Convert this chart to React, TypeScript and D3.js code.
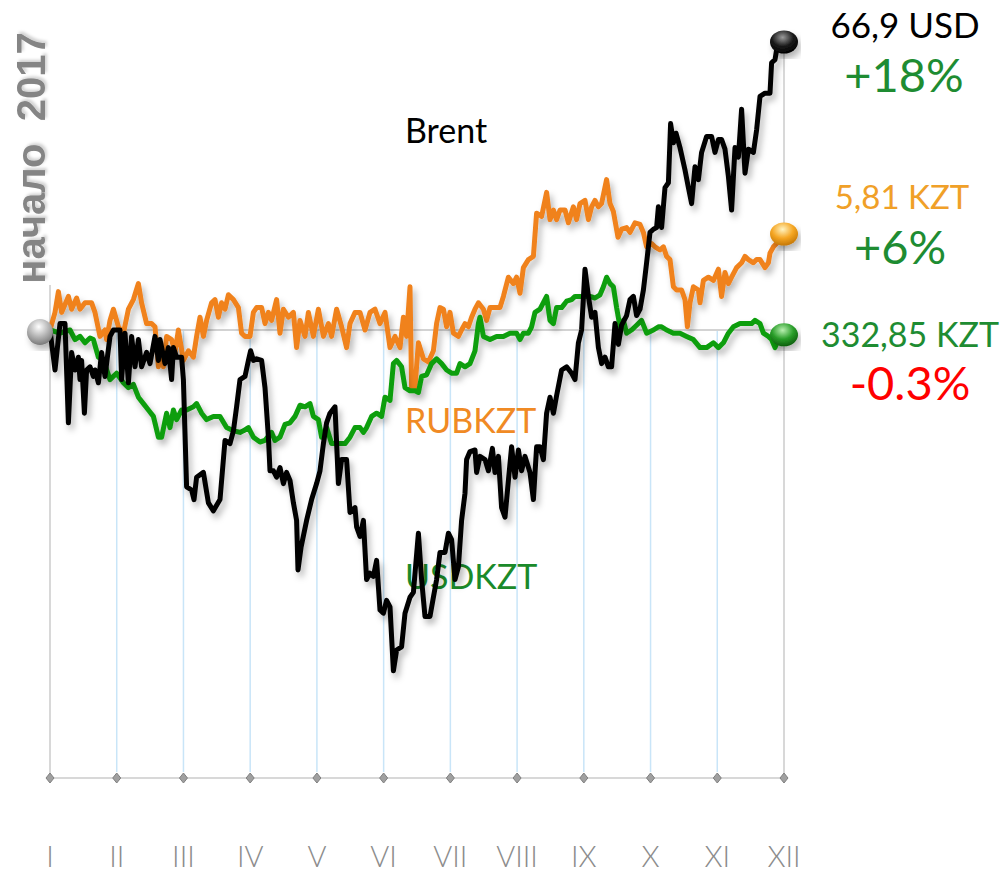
import { useEffect } from "react";
import * as d3 from "d3";

// [day of year, % change since start of 2017]
const brent: [number, number][] = [
  [0, 0], [2.5, -2.5], [5, 0.4], [7.5, 0.4], [9.2, -5.8], [10.8, -1.4], [12.5, -2.5], [14.2, -1.7],
  [15, -3.1], [15.8, -1.9], [17.2, -5.2], [18.3, -2.5], [20, -2.3], [21.7, -2.9], [22.5, -2.5],
  [24.2, -3.3], [25.8, -1.4], [27.5, -2.9], [30, -0.4], [31.7, 0], [35, 0], [35.8, -3.1], [37.5, -0.2],
  [39.2, -3.3], [40.8, -0.4], [42.5, -2.3], [44.2, -0.6], [45.8, -2.3], [48.3, -1.4], [50, -2.1],
  [52.5, -0.4], [54.2, -1.9], [55, -0.6], [57.5, -2.1], [59.2, -1.1], [60.8, -3.1], [61.7, -1.1],
  [63.3, -1.7], [65.8, -1.7], [66.7, -3.1], [68.3, -9.8], [70.8, -10], [72, -10.6], [73.3, -9.2],
  [76.7, -8.9], [79.2, -10.8], [81.7, -11.3], [85, -10.6], [87.5, -6.9], [90, -7.1], [91.7, -6.3],
  [93.3, -4.8], [95, -3.1], [97.5, -2.9], [99.2, -1.9], [100.3, -1.3], [101.7, -1.9], [103.3, -1.8],
  [105.8, -1.9], [107.5, -3.6], [109.2, -6.7], [110, -8.8], [111.7, -8.8], [113.3, -9.2], [115, -8.6],
  [116.7, -9.6], [118.3, -8.9], [120, -9.4], [121.7, -10.8], [123.3, -11.9], [124, -15], [125.5, -13.6],
  [128.3, -11.9], [130.8, -10.6], [133.3, -9.6], [135, -8.8], [136.7, -7.1], [138.3, -5.8], [140, -5.2],
  [142.5, -4.8], [144.2, -9.6], [145.8, -8.1], [148.3, -8.1], [150, -11.4], [152.5, -11.1],
  [153.3, -12.3], [155, -12.9], [156.7, -11.9], [158.3, -15.6], [160, -15.2], [161.7, -15.4],
  [163.3, -14.4], [165, -17.5], [166.7, -17.7], [168.3, -16.9], [170, -17.3], [171.7, -21.3],
  [173.3, -20], [175.8, -19.8], [177.5, -17.7], [180, -16.7], [181.7, -16.4], [184.2, -12.7],
  [185.8, -15.6], [187.5, -17.9], [190, -17.9], [191.7, -16.7], [193.3, -15.6], [195, -13.9],
  [197.5, -13.9], [199.2, -12.7], [200.8, -13.1], [202.5, -15.6], [204.2, -14.8], [205.8, -11.9],
  [207.5, -10.2], [208.3, -8.1], [210, -7.6], [212.5, -7.5], [213.3, -8.9], [215, -7.9], [217.5, -8.1],
  [219.2, -8.8], [221.2, -7.4], [222.5, -8.9], [224.2, -7.9], [225.8, -11.1], [227.5, -11.7],
  [229.2, -9.4], [230.8, -7.3], [232.5, -9.2], [234.2, -7.5], [235.8, -8.8], [237.5, -7.9], [240, -8.9],
  [241.7, -10.6], [243.3, -7.3], [245, -7.3], [246.7, -8.1], [248.3, -5.2], [250, -4.2], [251.7, -5.2],
  [253.3, -4.1], [255.8, -2.5], [258.3, -2.3], [260.8, -2.7], [262.5, -3.1], [264.2, -0.8], [265.8, 0],
  [267.5, 3.8], [269.2, 2.1], [270.8, 0.8], [272.5, 1.1], [274.2, -1.1], [275.8, -2.1], [277.5, -1.7],
  [279.2, -2.3], [280.8, -2.3], [282.5, 0.4], [284.2, -0.9], [285.8, 0.3], [288.3, 0.9], [290, 1.9],
  [291.7, 2.1], [293.3, 0.9], [295, 1.3], [296.7, 2.5], [298.3, 4.2], [300, 6.1], [301.7, 6.3],
  [303.3, 6.4], [304.2, 7.7], [305.8, 6.4], [307.5, 8.9], [309.2, 9.2], [310.3, 12.9], [311.7, 11.7],
  [313, 12.3], [315, 11.4], [317.5, 10], [319.2, 8.9], [320.8, 7.9], [322.5, 10.2], [324.2, 9.4],
  [325.8, 11.1], [328.3, 12.1], [330.8, 12.1], [332.5, 11.1], [334.2, 11.9], [335.8, 11.9],
  [337.5, 11.3], [339.2, 9.6], [340.8, 7.5], [342.5, 11.4], [344.2, 10.8], [345.8, 13.8], [347.5, 9.8],
  [349.2, 11.3], [351.7, 11.1], [353.3, 12.5], [355, 14.6], [357.5, 14.8], [360, 14.8], [360.8, 16.7],
  [362.5, 16.9], [363.3, 17.5], [366, 17.8], [367, 18],
];

const rubkzt: [number, number][] = [
  [0, 0], [2.5, 1.1], [4.2, 2.4], [5.8, 1.1], [9.2, 2.1], [10.8, 1.3], [13.3, 2], [15, 1.3], [17.5, 1.7],
  [20.8, 1.7], [22.5, 1.1], [25, -0.4], [27.5, 0], [28.3, -0.6], [30, 0.6], [31.7, 1.3], [34.2, 0.2],
  [36.7, -0.2], [39.2, 1.3], [41.7, 1.9], [44.2, 2.9], [45.8, 1.7], [48.3, 0.4], [50.8, 0.4], [52.5, 0.2],
  [54.2, -2.3], [55.8, -1.3], [56.7, -2.3], [58.3, -0.4], [60.8, -0.6], [62.5, -1.4], [64.2, 0],
  [66.7, -1.9], [69.2, -1.3], [71.7, -1.7], [73.3, -0.4], [75, 0.8], [76.7, -0.4], [78.3, 0.6],
  [80.8, 1.7], [82.5, 1.9], [84.2, 0.8], [85.8, 1.7], [87.5, 1.3], [89.2, 2.2], [91.7, 1.9], [94.2, 1.4],
  [95.8, -0.2], [97.5, -0.4], [100, -0.4], [101.7, 1.1], [103.3, 1.4], [105.8, 1.4], [107.5, 0.4],
  [109.2, 1.1], [110.8, 0.6], [113.3, 1.9], [115, -0.2], [116.7, 1.3], [119.2, 0.8], [121.7, 1.1],
  [123.3, -1.1], [125, 0.6], [127.5, -0.4], [129.2, 1.1], [131.7, -0.4], [134.2, 1.3], [136.7, -0.4],
  [139.2, 0.4], [140.8, -0.4], [143.3, 1.3], [145.8, 0.2], [148.3, -1.1], [150, 0.4], [152.5, 1.1],
  [155, 1.1], [157.5, 0], [160, 1.1], [162.5, 1.3], [165, 0.4], [167.5, 1.1], [170, -1.1], [172.5, -0.4],
  [175, -1.1], [176.7, 0.8], [178.3, -0.4], [180, 2.7], [180.8, -3.6], [182.5, -3.6], [184.2, -0.8],
  [186.7, -1.8], [189.2, -2], [191.7, -1.3], [193.3, 0.4], [195, 1.4], [196.7, 1.3], [198.3, 0.2],
  [200, 1.1], [201.7, -0.2], [204.2, -0.4], [205.8, 0], [207.5, 0.4], [209.2, 0.2], [210.8, 0.8],
  [212.5, 1.3], [214.2, 1.7], [216.7, 1.3], [218.3, 0.6], [220, 1.4], [222.5, 1.4], [225, 1.4],
  [226.7, 2.1], [229.2, 3.3], [231.7, 2.9], [233.3, 3.3], [235, 2.3], [236.7, 3.9], [239.2, 4.4],
  [241.7, 4.6], [243.3, 7.3], [245.8, 7.1], [248.3, 8.6], [250, 6.9], [251.7, 7.5], [253.3, 6.9],
  [255, 7.5], [257.5, 7.5], [259.2, 6.7], [261.7, 7.7], [263.3, 6.9], [265, 7.9], [267.5, 8.1],
  [269.2, 6.9], [270.8, 7.7], [272.5, 8.1], [274.2, 7.7], [275.8, 7.9], [278.3, 9.4], [280, 7.9],
  [281.7, 7.4], [284, 5.8], [285.8, 6.3], [288.3, 6.4], [290, 6.1], [292.5, 6.7], [295, 6.6], [296.7, 6.1],
  [298.3, 5.2], [300.8, 5.4], [302.5, 5.2], [305, 5], [306.7, 5.2], [308.3, 4.6], [310, 4.4], [311.7, 2.7],
  [313.3, 2.5], [315.8, 2.5], [317.5, 1.9], [318.7, 0.2], [320, 1.7], [321.7, 2.7], [324.2, 2.5],
  [325, 1.7], [326.7, 3.1], [329.2, 3.3], [331.7, 3.1], [334.2, 3.8], [335.8, 2.1], [337.5, 3.6],
  [339.2, 2.9], [340.8, 3.3], [343.3, 3.9], [345.8, 4.2], [347.5, 4.6], [349.2, 4.4], [351.7, 4.2],
  [353.3, 4.4], [355, 4.4], [357.5, 3.9], [359.2, 4.2], [360, 4.8], [361.7, 5.2], [363.3, 5.4],
  [365, 5.8], [367, 6],
];

const usdkzt: [number, number][] = [
  [0, 0], [5, -0.2], [10, 0], [12.5, -0.6], [15, -0.4], [17.5, -0.8], [20, -0.5], [21.7, -0.6],
  [24.2, -1.7], [26.7, -1.9], [30, -3.1], [33.3, -2.7], [36.7, -3.3], [39.2, -3.6], [41.7, -3.4],
  [44.2, -4.2], [46.7, -4.6], [49.2, -5], [51.7, -5.4], [54.2, -6.7], [55.8, -6.7], [58.3, -5.2],
  [60, -6.1], [61.7, -5], [63.3, -5.6], [65.8, -5], [68.3, -5], [71.7, -4.8], [73.3, -4.6], [75.8, -5.2],
  [78.3, -5.6], [81.7, -5.4], [85, -5.4], [88.3, -6.1], [91.7, -6.3], [95, -6.4], [96.7, -6.3],
  [99.2, -6.1], [101.7, -6.7], [105, -7], [107.5, -6.9], [110.8, -6.4], [112.5, -6.9], [115, -6.7],
  [117.5, -5.9], [120, -5.8], [122.5, -5.4], [125, -4.7], [127.5, -4.8], [130, -4.6], [131.7, -5.4],
  [134.2, -5.6], [135.8, -6.7], [138.3, -6.1], [140.8, -7.1], [144.2, -7.1], [147.5, -7.1], [150, -6.7],
  [152.5, -6.1], [155, -6.1], [156.7, -6.4], [158.3, -6.1], [160.8, -5.4], [163.3, -5.2], [165.8, -5.4],
  [167.5, -4.2], [170, -4.4], [171.7, -2.1], [173.3, -1.9], [175.8, -2.3], [177.5, -3.6], [180, -3.8],
  [182.5, -3.8], [184.2, -3.9], [185.8, -2.9], [188.3, -2.8], [190.8, -2.1], [193.3, -1.8], [195.8, -2.1],
  [198.3, -2.5], [200.8, -2.7], [203.3, -2.7], [205, -2.1], [207.5, -2.3], [210, -2.1], [212.5, -1.3],
  [214.2, 0.4], [215, 0.8], [216.7, -0.4], [220, -0.6], [223.3, -0.4], [226.7, -0.4], [230, -0.2],
  [233.3, -0.2], [235, -0.6], [236.7, -0.2], [239.2, -0.2], [240.8, 0.2], [242.5, 1.1], [245, 1.3],
  [248.3, 2.1], [250, 0.6], [251.7, 0.4], [253.3, 1.4], [255.8, 1.4], [258.3, 1.8], [260.8, 1.9],
  [262.5, 2.1], [265, 2.1], [267.5, 2.1], [270, 2.1], [272.5, 2], [275, 2.2], [276.7, 2.7], [278.3, 3.3],
  [280, 2.9], [281.7, 2.7], [283.3, 1.4], [285, 0.2], [286.7, 0.6], [288.3, -0.2], [290.8, 0],
  [293.3, 0.3], [295.8, 0.6], [298.3, -0.2], [301.7, 0], [304.2, 0.2], [305.8, 0.2], [308.3, 0],
  [311.7, -0.2], [315, -0.2], [318.3, -0.4], [321.7, -0.6], [325, -1.1], [328.3, -1.1], [331.7, -0.8],
  [334.2, -1.1], [336.7, -0.8], [339.2, -0.2], [341.7, 0.2], [345, 0.4], [348.3, 0.4], [350.8, 0.4],
  [352.5, 0.6], [355, 0.4], [356.7, -0.2], [359.2, -0.4], [360.8, -0.6], [362.5, -1.1], [365, -0.3],
  [367, -0.3],
];

const months = ["I", "II", "III", "IV", "V", "VI", "VII", "VIII", "IX", "X", "XI", "XII"];
const endPrices = ["66,9 USD", "5,81 KZT", "332,85 KZT"];
const endChanges = ["+18%", "+6%", "-0.3%"];

const W = 1007;
const H = 874;
const FONT = "Lato, 'Open Sans', sans-serif";

const series = [
  { name: "RUBKZT", data: rubkzt, color: "#f0821e", ball: ["#fff3c0", "#f5a623", "#c57808"] },
  { name: "USDKZT", data: usdkzt, color: "#0a9e0a", ball: ["#b8f0b0", "#2a9e2a", "#0d5e0d"] },
  { name: "Brent", data: brent, color: "#000000", ball: ["#9a9a9a", "#1a1a1a", "#000000"] },
];

export default function App() {
  useEffect(() => {
    document.body.style.margin = "0";
  }, []);

  const x = d3.scaleLinear().domain([0, 367]).range([50, 784]);
  const y = d3.scaleLinear().domain([-28, 20]).range([778, 10]);
  const mx = d3.scalePoint<string>().domain(months).range([50, 784]);
  const line = d3
    .line<[number, number]>()
    .x((d) => x(d[0]))
    .y((d) => y(d[1]));

  const y0 = y(0);
  const axisY = y(-28);

  return (
    <svg width={W} height={H} style={{ display: "block", background: "#fff" }}>
      <defs>
        <filter id="shadow" x="-10%" y="-10%" width="120%" height="130%">
          <feDropShadow dx="3" dy="5" stdDeviation="3" floodColor="#000" floodOpacity="0.28" />
        </filter>
        <filter id="softshadow" x="-10%" y="-10%" width="130%" height="130%">
          <feDropShadow dx="2" dy="2" stdDeviation="1.5" floodColor="#000" floodOpacity="0.18" />
        </filter>
        {series.map((s) => (
          <radialGradient key={s.name} id={`ball-${s.name}`} cx="45%" cy="30%" r="70%">
            <stop offset="0%" stopColor={s.ball[0]} />
            <stop offset="55%" stopColor={s.ball[1]} />
            <stop offset="100%" stopColor={s.ball[2]} />
          </radialGradient>
        ))}
        <radialGradient id="ball-start" cx="45%" cy="30%" r="70%">
          <stop offset="0%" stopColor="#ffffff" />
          <stop offset="55%" stopColor="#b5b5b5" />
          <stop offset="100%" stopColor="#7a7a7a" />
        </radialGradient>
      </defs>

      {/* grid */}
      {months.map((m, i) => {
        const px = mx(m)!;
        const first = i === 0;
        const last = i === months.length - 1;
        return (
          <line
            key={m}
            x1={px}
            x2={px}
            y1={first ? 285 : last ? y(18) : y0}
            y2={first || last ? axisY : axisY - 6}
            stroke={first || last ? "#d8d8d8" : "#c9e5f8"}
            strokeWidth={first || last ? 2 : 1.5}
          />
        );
      })}
      <line x1={x(0)} x2={x(367)} y1={y0} y2={y0} stroke="#d3d3d3" strokeWidth={2} />
      <line x1={x(0)} x2={x(367)} y1={axisY} y2={axisY} stroke="#d8d8d8" strokeWidth={2} />
      {months.map((m) => {
        const px = mx(m)!;
        return (
          <g key={m}>
            <path
              d={`M${px},${axisY - 5}L${px + 4},${axisY}L${px},${axisY + 5}L${px - 4},${axisY}Z`}
              fill="#a0a0a0"
              stroke="#808080"
              strokeWidth={1}
            />
            <text
              x={px}
              y={867}
              textAnchor="middle"
              fontFamily={FONT}
              fontWeight={300}
              fontSize={29}
              fill="#8c8c8c"
            >
              {m}
            </text>
          </g>
        );
      })}

      {/* title */}
      <text
        transform="translate(45,158) rotate(-90)"
        textAnchor="middle"
        fontFamily="'Liberation Sans', Arial, sans-serif"
        fontWeight="bold"
        fontSize={40}
        fill="#858585"
        style={{ whiteSpace: "pre" }}
        filter="url(#softshadow)"
      >
        {"начало  2017"}
      </text>

      {/* series labels */}
      <text x={405} y={143} fontFamily={FONT} fontSize={34} fill="#000">Brent</text>
      <text x={405} y={433} fontFamily={FONT} fontSize={34} fill="#f08a24">RUBKZT</text>
      <text x={405} y={589} fontFamily={FONT} fontSize={34} fill="#1a8a2a">USDKZT</text>

      {/* lines */}
      {series.map((s) => (
        <path
          key={s.name}
          d={line(s.data) ?? ""}
          fill="none"
          stroke={s.color}
          strokeWidth={5}
          strokeLinejoin="round"
          filter="url(#shadow)"
        />
      ))}

      {/* start ball */}
      <circle cx={x(0) - 10} cy={y0 + 2} r={13} fill="url(#ball-start)" filter="url(#shadow)" />

      {/* end balls */}
      {series.map((s) => {
        const last = s.data[s.data.length - 1];
        return (
          <ellipse
            key={s.name}
            cx={x(last[0])}
            cy={y(last[1])}
            rx={14}
            ry={11.5}
            fill={`url(#ball-${s.name})`}
            filter="url(#shadow)"
          />
        );
      })}

      {/* end labels */}
      <g fontFamily={FONT} textAnchor="middle">
        <text x={905} y={38} fontSize={35} fill="#000">{endPrices[0]}</text>
        <text x={904} y={92} fontSize={47} fill="#1e8c32">{endChanges[0]}</text>
        <text x={902} y={209} fontSize={33} fill="#f0a028">{endPrices[1]}</text>
        <text x={900} y={264} fontSize={47} fill="#1e8c32">{endChanges[1]}</text>
        <text x={910} y={347} fontSize={34} fill="#1e8c32">{endPrices[2]}</text>
        <text x={910} y={400} fontSize={47} fill="#ff0000">{endChanges[2]}</text>
      </g>
    </svg>
  );
}
